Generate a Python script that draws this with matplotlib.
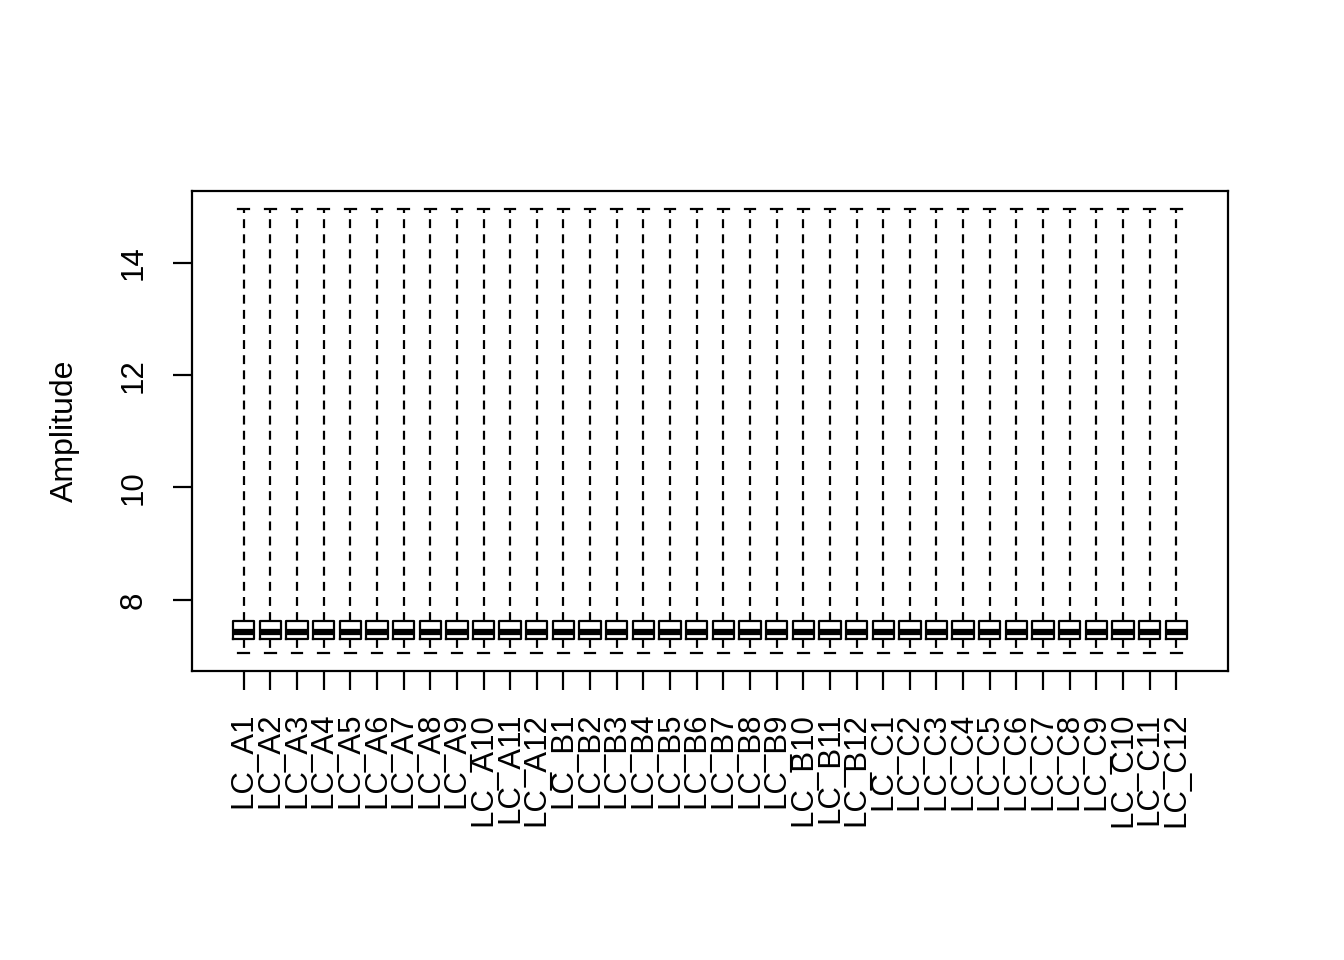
import matplotlib
matplotlib.use("Agg")
import matplotlib.pyplot as plt

# sample names
samples = ([f"LC_A{i}" for i in range(1, 13)]
           + [f"LC_B{i}" for i in range(1, 13)]
           + [f"LC_C{i}" for i in range(1, 13)])
n = len(samples)

# five-number summaries (all samples look alike)
whisk_lo = [7.05] * n
q1 = [7.30] * n
med = [7.42] * n
q3 = [7.63] * n
whisk_hi = [14.96] * n

plt.rcParams["font.family"] = ["Liberation Sans", "DejaVu Sans"]

stats = [dict(label=s, whislo=lo, q1=a, med=m, q3=b, whishi=hi, fliers=[])
         for s, lo, a, m, b, hi in zip(samples, whisk_lo, q1, med, q3, whisk_hi)]

fig = plt.figure(figsize=(13.44, 9.6), dpi=100)
ax = fig.add_axes([192 / 1344, 1 - 671 / 960, (1228 - 192) / 1344, (671 - 191) / 960])

lw = 1.6
ax.bxp(stats, positions=range(1, n + 1), widths=0.8, capwidths=0.4,
       showfliers=False,
       boxprops=dict(color="black", lw=lw),
       medianprops=dict(color="black", lw=4.5, solid_capstyle="butt"),
       whiskerprops=dict(color="black", lw=lw, linestyle=(0, (4.0, 2.8))),
       capprops=dict(color="black", lw=lw))

ax.set_xlim(0.5 - 0.04 * n, n + 0.5 + 0.04 * n)
lo, hi = min(whisk_lo), max(whisk_hi)
pad = 0.04 * (hi - lo)
ax.set_ylim(lo - pad, hi + pad)

ax.set_xticks(range(1, n + 1))
ax.set_xticklabels(samples, rotation=90, fontsize=22.5)
ax.set_yticks([8, 10, 12, 14])
ax.set_yticklabels(["8", "10", "12", "14"], rotation=90, va="center", fontsize=22.5)
ax.tick_params(axis="both", length=14, width=lw, direction="out")
ax.tick_params(axis="x", pad=16)
ax.tick_params(axis="y", pad=17)
ax.set_ylabel("Amplitude", fontsize=23, labelpad=28)

for s in ax.spines.values():
    s.set_linewidth(lw)

fig.savefig("out.png", dpi=100)
